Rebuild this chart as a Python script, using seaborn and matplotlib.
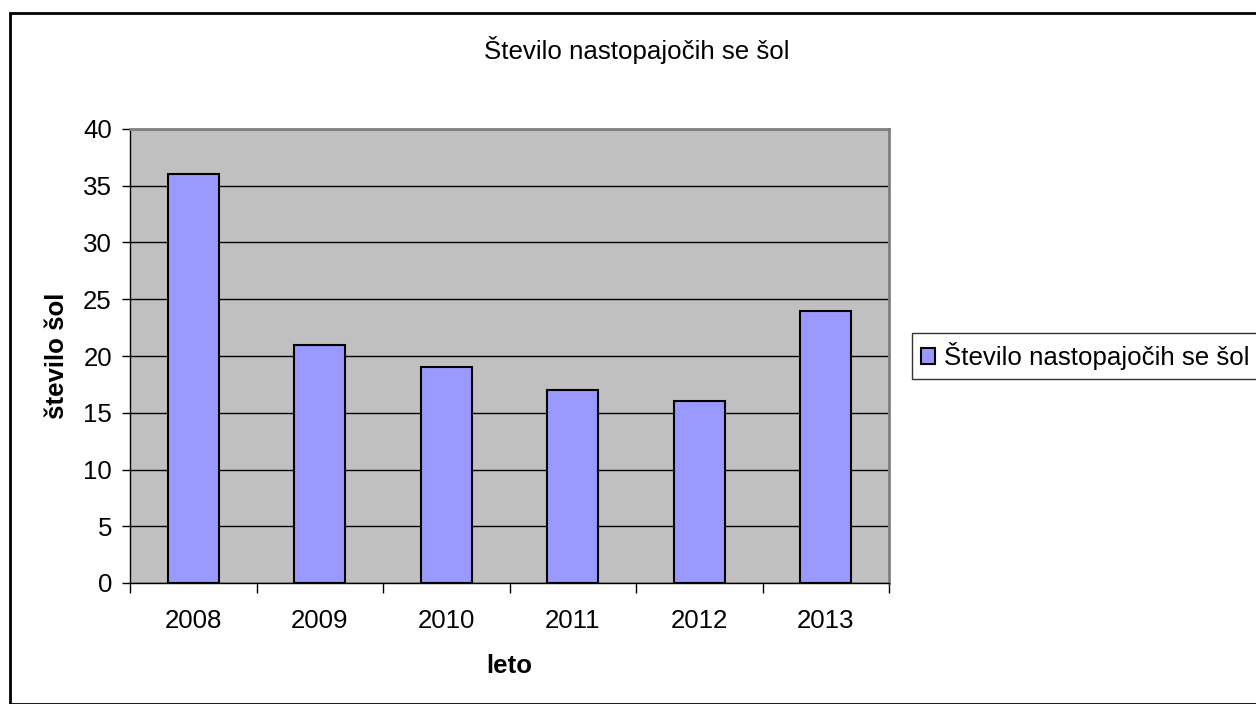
import pandas as pd
import numpy as np
import matplotlib
matplotlib.use('Agg')
import matplotlib.pyplot as plt
import matplotlib.patches as mpatches
import seaborn as sns

# --- DATA ---
leta = ['2008', '2009', '2010', '2011', '2012', '2013']
st_sol = [36, 21, 19, 17, 16, 24]
serija = 'Število nastopajočih se šol'

df = pd.DataFrame({'leto': leta, 'stevilo': st_sol, 'serija': serija})

sns.set_style('white')
plt.rcParams['font.family'] = ['Liberation Sans', 'DejaVu Sans']
plt.rcParams['text.color'] = 'black'
plt.rcParams['axes.labelcolor'] = 'black'
plt.rcParams['xtick.color'] = 'black'
plt.rcParams['ytick.color'] = 'black'
FS = 18.6

fig = plt.figure(figsize=(12.56, 7.04), dpi=100)
ax = fig.add_axes([130 / 1256, 1 - 583 / 704, 759 / 1256, 454 / 704])
ax.set_facecolor('#c0c0c0')

sns.barplot(data=df, x='leto', y='stevilo', hue='serija', order=leta,
            palette=['#9999ff'], saturation=1, edgecolor='black', linewidth=1.5,
            width=0.4, dodge=False, legend=False, ax=ax, zorder=3)

ax.set_ylim(0, 40)
ax.set_xlim(-0.5, len(leta) - 0.5)
ax.set_yticks(np.arange(0, 41, 5))
ax.yaxis.grid(True, color='black', linewidth=1, zorder=1)
ax.set_axisbelow(True)

# x ticks between categories
ax.set_xticks(np.arange(-0.5, len(leta), 1.0), minor=True)
ax.tick_params(axis='x', which='major', length=0, labelsize=FS, pad=19)
ax.tick_params(axis='x', which='minor', length=7, width=1, color='black', direction='out')
ax.tick_params(axis='y', length=6, width=1, color='black', direction='out', labelsize=FS, pad=7)
ax.xaxis.set_ticks_position('bottom')
ax.yaxis.set_ticks_position('left')

for s in ['top', 'right']:
    ax.spines[s].set_color('#808080')
    ax.spines[s].set_linewidth(2)
for s in ['left', 'bottom']:
    ax.spines[s].set_color('black')
    ax.spines[s].set_linewidth(1)

ax.set_xlabel('leto', fontsize=FS, fontweight='bold', labelpad=15)
ax.set_ylabel('število šol', fontsize=FS, fontweight='bold', labelpad=10)

fig.text(637 / 1256, 1 - 50 / 704, serija, ha='center', va='center', fontsize=FS)

handle = mpatches.Patch(facecolor='#9999ff', edgecolor='black', linewidth=1.5, label=serija)
leg = fig.legend(handles=[handle], loc='center left', bbox_to_anchor=(912 / 1256, 1 - 356 / 704),
                 fontsize=FS, frameon=True, fancybox=False, handlelength=0.54, handleheight=0.54,
                 handletextpad=0.35, borderpad=0.35, borderaxespad=0)
leg.get_frame().set_edgecolor('black')
leg.get_frame().set_linewidth(1)

# outer chart border
border = mpatches.Rectangle((10 / 1256, 0), 1.2, 1 - 13 / 704, transform=fig.transFigure,
                            fill=False, edgecolor='black', linewidth=2, clip_on=False)
fig.patches.append(border)

fig.savefig('out.png', dpi=100)
